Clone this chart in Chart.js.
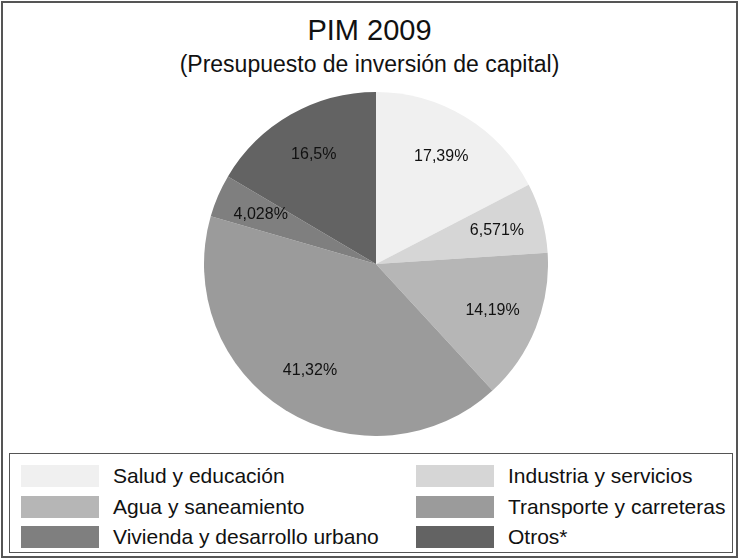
<!DOCTYPE html>
<html>
<head>
<meta charset="utf-8">
<script src="https://cdn.jsdelivr.net/npm/chart.js@4/dist/chart.umd.min.js"></script>
<style>
  html, body { margin: 0; padding: 0; background: #fff; }
  body { width: 739px; height: 559px; position: relative; overflow: hidden;
         font-family: "Liberation Sans", Arial, sans-serif; color: #111; }
  #frame { position: absolute; left: 1px; top: 1px; width: 733px; height: 553px;
           border: 2px solid #555; }
  #title { position: absolute; left: 0; width: 739px; top: 14px; text-align: center;
           font-size: 29px; line-height: normal; }
  #subtitle { position: absolute; left: 0; width: 739px; top: 51px; text-align: center;
              font-size: 23px; line-height: normal; }
  #pieWrap { position: absolute; left: 204px; top: 92px; width: 344px; height: 344px; }
  #legend { position: absolute; left: 9px; top: 453px; width: 722px; height: 98px;
            border: 1px solid #555; }
  .item { position: absolute; height: 24px; font-size: 21px; line-height: 24px; }
  .sw { position: absolute; left: 0; top: 1px; width: 78px; height: 22px; }
  .lbl { position: absolute; left: 92px; top: 0; white-space: nowrap; }
</style>
</head>
<body>
<div id="frame"></div>
<div id="title">PIM 2009</div>
<div id="subtitle">(Presupuesto de inversión de capital)</div>
<div id="pieWrap"><canvas id="pimChart"></canvas></div>
<div id="legend"></div>
<script>
// Data
const categories = [
    'Salud y educación',
    'Industria y servicios',
    'Agua y saneamiento',
    'Transporte y carreteras',
    'Vivienda y desarrollo urbano',
    'Otros*'
];
const shares = [17.39, 6.571, 14.19, 41.32, 4.028, 16.5];
const sliceColors = ['#f0f0f0', '#d6d6d6', '#b6b6b6', '#9b9b9b', '#7f7f7f', '#636363'];

// Percent labels with decimal comma, e.g. "17,39%"
function formatShare(v) {
    return String(v).replace('.', ',') + '%';
}

// Draws the percentage text inside each slice
const sliceLabels = {
    id: 'sliceLabels',
    afterDatasetsDraw(chart) {
        const ctx = chart.ctx;
        const meta = chart.getDatasetMeta(0);
        ctx.save();
        ctx.font = '16px "Liberation Sans", Arial, sans-serif';
        ctx.fillStyle = '#111';
        ctx.textAlign = 'center';
        ctx.textBaseline = 'middle';
        meta.data.forEach((arc, i) => {
            const p = arc.getProps(['x', 'y', 'startAngle', 'endAngle', 'outerRadius'], true);
            const mid = (p.startAngle + p.endAngle) / 2;
            const r = p.outerRadius * 0.73;
            ctx.fillText(formatShare(shares[i]), p.x + Math.cos(mid) * r, p.y + Math.sin(mid) * r);
        });
        ctx.restore();
    }
};

new Chart(document.getElementById('pimChart'), {
    type: 'pie',
    data: {
        labels: categories,
        datasets: [{
            data: shares,
            backgroundColor: sliceColors,
            borderWidth: 0
        }]
    },
    options: {
        responsive: true,
        maintainAspectRatio: false,
        animation: false,
        layout: { padding: 0 },
        plugins: {
            legend: { display: false },
            tooltip: { enabled: false }
        }
    },
    plugins: [sliceLabels]
});

// Two-column legend below the pie
const legendBox = document.getElementById('legend');
const rowTops = [10, 41, 71];
const colLefts = [11, 406];
categories.forEach((name, i) => {
    const item = document.createElement('div');
    item.className = 'item';
    item.style.left = colLefts[i % 2] + 'px';
    item.style.top = rowTops[Math.floor(i / 2)] + 'px';
    const sw = document.createElement('div');
    sw.className = 'sw';
    sw.style.background = sliceColors[i];
    const lbl = document.createElement('div');
    lbl.className = 'lbl';
    lbl.textContent = name;
    item.appendChild(sw);
    item.appendChild(lbl);
    legendBox.appendChild(item);
});
</script>
</body>
</html>
